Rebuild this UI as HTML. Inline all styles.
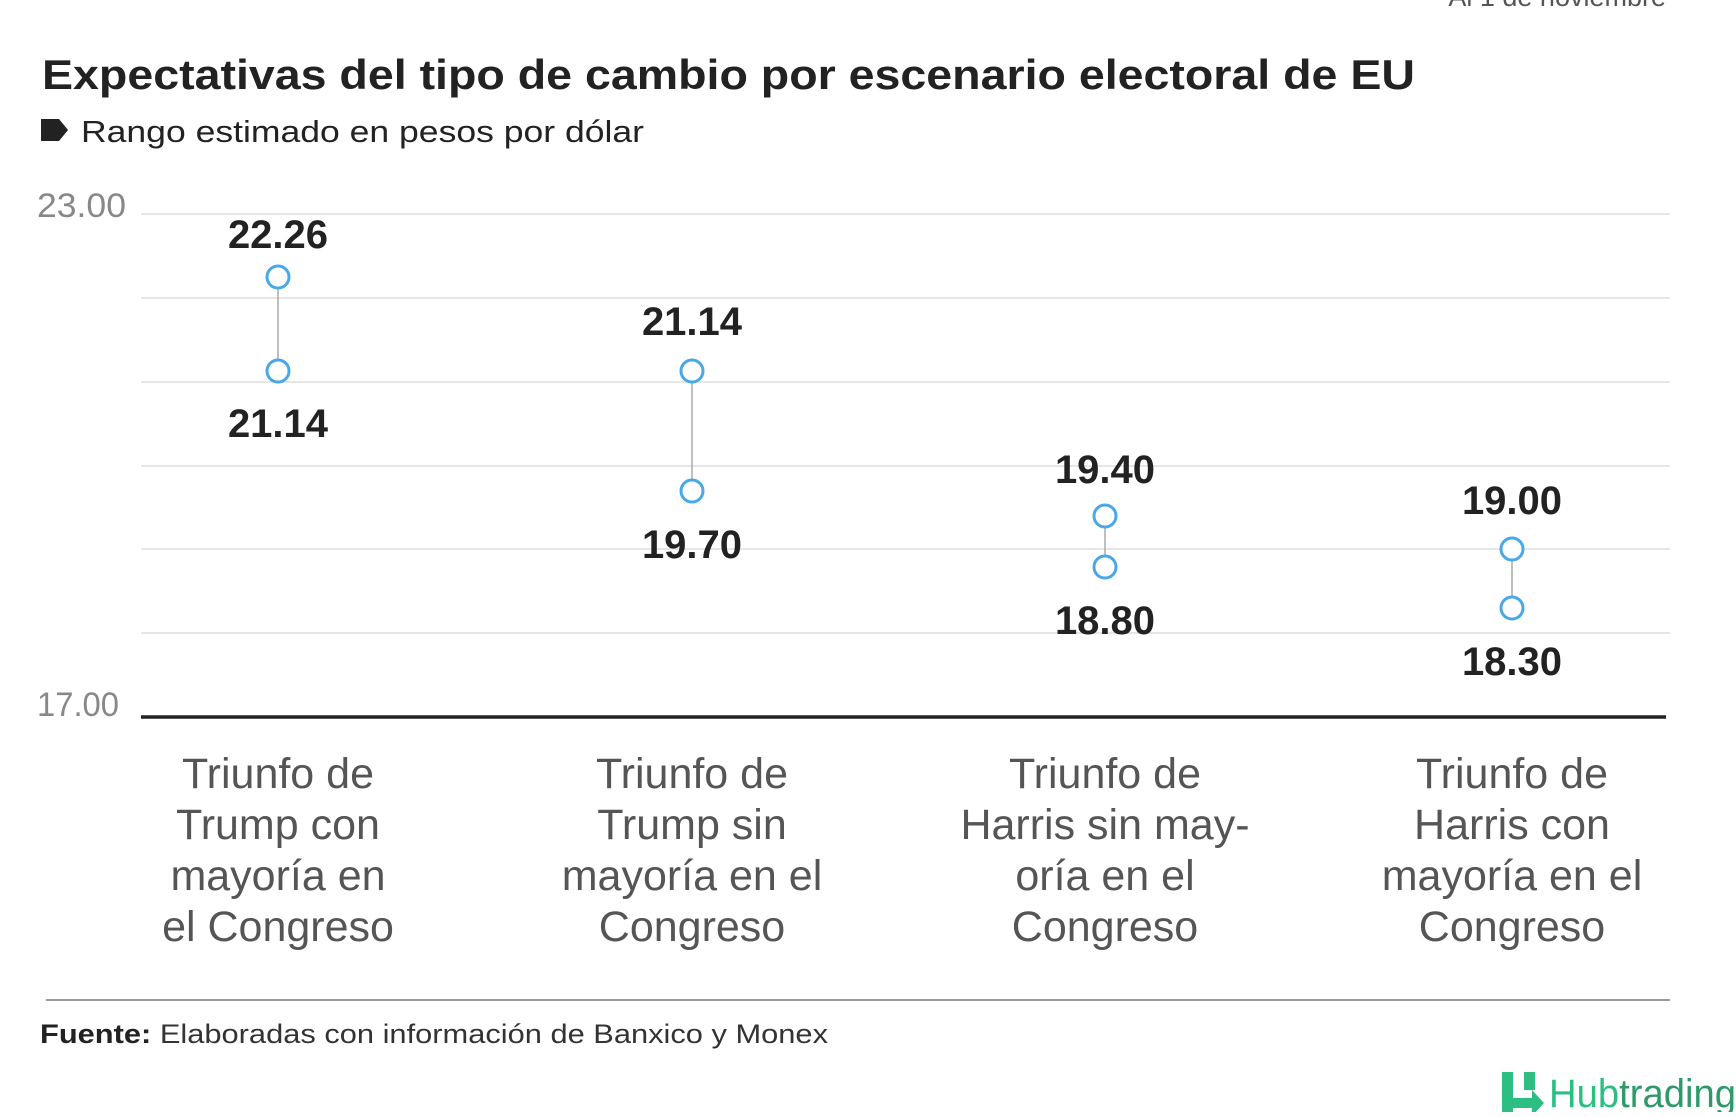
<!DOCTYPE html>
<html><head><meta charset="utf-8"><style>
body{margin:0;width:1736px;height:1112px;background:#fff;overflow:hidden;font-family:"Liberation Sans",sans-serif}
</style></head><body>
<svg width="1736" height="1112" xmlns="http://www.w3.org/2000/svg" font-family="Liberation Sans, sans-serif">
<text x="1666" y="6" text-anchor="end" font-size="27" fill="#555">Al 1 de noviembre</text>
<text x="42" y="89" font-size="42" font-weight="bold" fill="#222" textLength="1373" lengthAdjust="spacingAndGlyphs">Expectativas del tipo de cambio por escenario electoral de EU</text>
<path d="M41 119h18l9 11-9 11h-18z" fill="#222"/>
<text x="81" y="142" font-size="31" fill="#222" textLength="563" lengthAdjust="spacingAndGlyphs">Rango estimado en pesos por dólar</text>
<g stroke="#e6e6e6" stroke-width="2">
<line x1="141" x2="1670" y1="214" y2="214"/><line x1="141" x2="1670" y1="298" y2="298"/>
<line x1="141" x2="1670" y1="382" y2="382"/><line x1="141" x2="1670" y1="466" y2="466"/>
<line x1="141" x2="1670" y1="549" y2="549"/><line x1="141" x2="1670" y1="633" y2="633"/>
</g>
<line x1="141" x2="1666" y1="717" y2="717" stroke="#222" stroke-width="3.5"/>
<text x="37" y="217" font-size="34" fill="#888" textLength="89" lengthAdjust="spacingAndGlyphs">23.00</text>
<text x="37" y="716" font-size="34" fill="#888" textLength="82" lengthAdjust="spacingAndGlyphs">17.00</text>
<g stroke="#aaa" stroke-width="1.5">
<line x1="278" x2="278" y1="277" y2="371"/><line x1="692" x2="692" y1="371" y2="491"/>
<line x1="1105" x2="1105" y1="516" y2="567"/><line x1="1512" x2="1512" y1="549" y2="608"/>
</g>
<g fill="#fff" stroke="#4aa8e8" stroke-width="3">
<circle cx="278" cy="277" r="11"/><circle cx="278" cy="371" r="11"/>
<circle cx="692" cy="371" r="11"/><circle cx="692" cy="491" r="11"/>
<circle cx="1105" cy="516" r="11"/><circle cx="1105" cy="567" r="11"/>
<circle cx="1512" cy="549" r="11"/><circle cx="1512" cy="608" r="11"/>
</g>
<g font-size="40" font-weight="bold" fill="#222" text-anchor="middle">
<text x="278" y="248">22.26</text><text x="278" y="437">21.14</text>
<text x="692" y="335">21.14</text><text x="692" y="558">19.70</text>
<text x="1105" y="483">19.40</text><text x="1105" y="634">18.80</text>
<text x="1512" y="514">19.00</text><text x="1512" y="675">18.30</text>
</g>
<g font-size="43" fill="#555" text-anchor="middle">
<text x="278" y="788">Triunfo de</text><text x="278" y="839">Trump con</text><text x="278" y="890">mayoría en</text><text x="278" y="941">el Congreso</text>
<text x="692" y="788">Triunfo de</text><text x="692" y="839">Trump sin</text><text x="692" y="890">mayoría en el</text><text x="692" y="941">Congreso</text>
<text x="1105" y="788">Triunfo de</text><text x="1105" y="839">Harris sin may-</text><text x="1105" y="890">oría en el</text><text x="1105" y="941">Congreso</text>
<text x="1512" y="788">Triunfo de</text><text x="1512" y="839">Harris con</text><text x="1512" y="890">mayoría en el</text><text x="1512" y="941">Congreso</text>
</g>
<line x1="46" x2="1670" y1="1000" y2="1000" stroke="#999" stroke-width="2"/>
<text x="40" y="1043" font-size="27" fill="#333" textLength="788" lengthAdjust="spacingAndGlyphs"><tspan font-weight="bold" fill="#222">Fuente:</tspan> Elaboradas con información de Banxico y Monex</text>
<g fill="#2dbe82">
<rect x="1502" y="1072" width="11" height="40"/><rect x="1524" y="1072" width="11" height="18"/>
<path d="M1502 1098h30v-8l12 13-12 13v-8h-30z"/>
</g>
<text x="1549" y="1107" font-size="40" fill="#2dbe82" textLength="187" lengthAdjust="spacingAndGlyphs">Hub<tspan fill="#2e9a6a">trading</tspan></text>
</svg>
</body></html>
